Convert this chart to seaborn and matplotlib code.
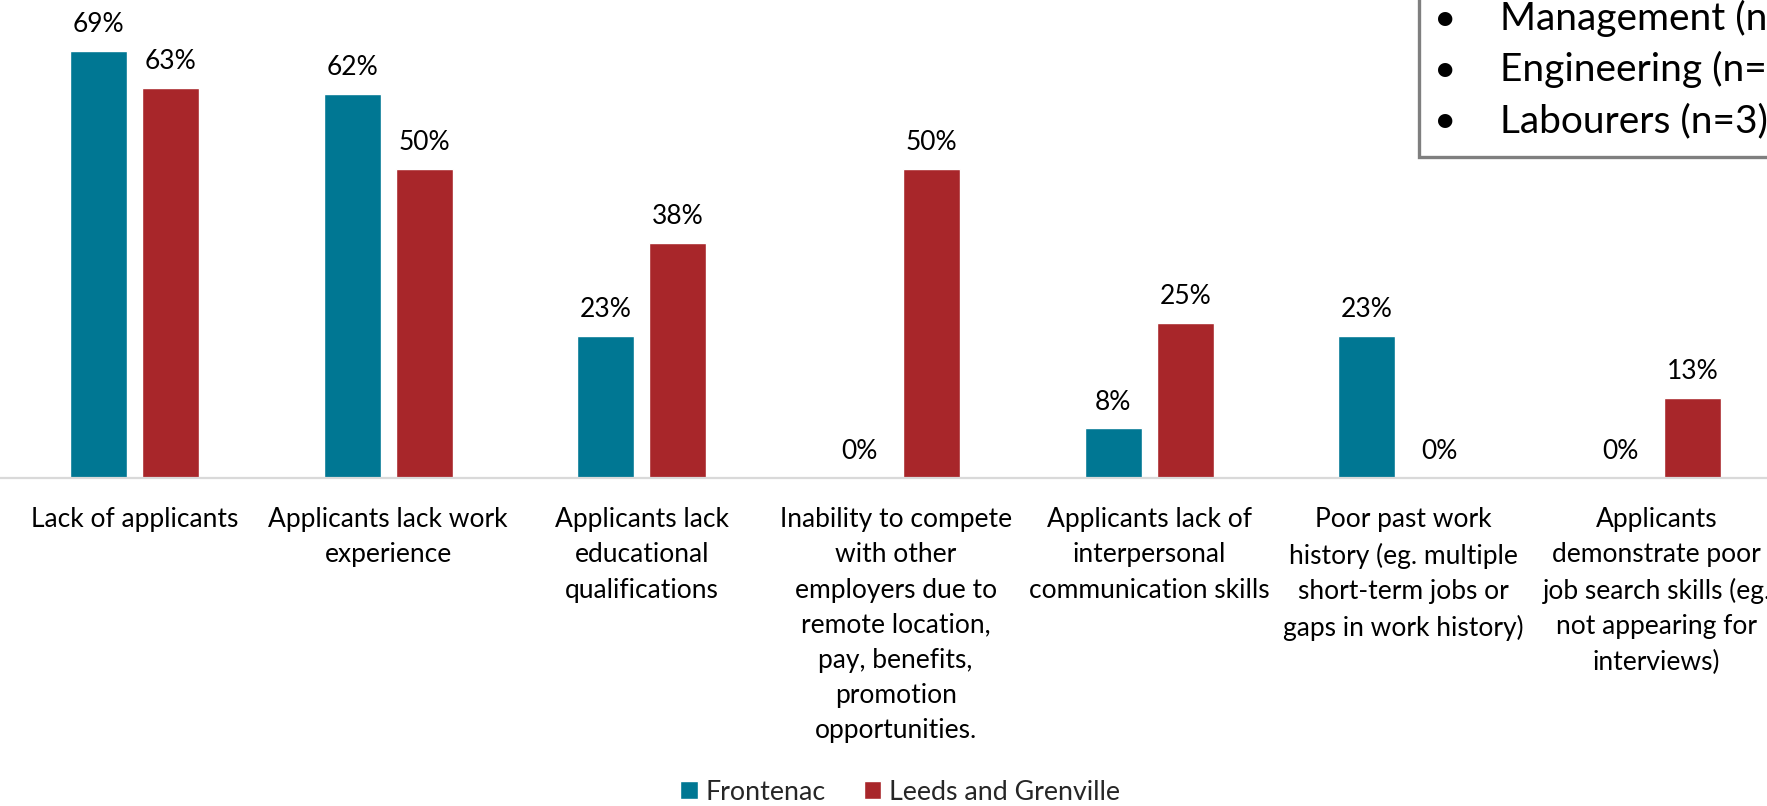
import matplotlib
matplotlib.use("Agg")
import matplotlib.pyplot as plt
from matplotlib.patches import Rectangle
import pandas as pd
import seaborn as sns

# Reasons for hiring difficulty, by region (% of employers)
categories = [
    "Lack of applicants",
    "Applicants lack work\nexperience",
    "Applicants lack\neducational\nqualifications",
    "Inability to compete\nwith other\nemployers due to\nremote location,\npay, benefits,\npromotion\nopportunities.",
    "Applicants lack of\ninterpersonal\ncommunication skills",
    "Poor past work\nhistory (eg. multiple\nshort-term jobs or\ngaps in work history)",
    "Applicants\ndemonstrate poor\njob search skills (eg.\nnot appearing for\ninterviews)",
]
regions = ["Frontenac", "Leeds and Grenville"]
frontenac = [69, 62, 23, 0, 8, 23, 0]
leeds_grenville = [63, 50, 38, 50, 25, 0, 13]
colors = ["#007793", "#A8262A"]
occupations = ["Management (n=4)", "Engineering (n=3)", "Labourers (n=3)"]

df = pd.DataFrame({
    "category": categories * 2,
    "region": [regions[0]] * len(categories) + [regions[1]] * len(categories),
    "value": frontenac + leeds_grenville,
})

sns.set_theme(style="white")
plt.rcParams["font.family"] = ["Lato", "DejaVu Sans"]

W, H = 1767, 806
fig = plt.figure(figsize=(W / 100, H / 100), dpi=100)
base_y = 478
ax = fig.add_axes([0, (H - base_y) / H, 1, base_y / H])

sns.barplot(
    data=df, x="category", y="value", hue="region",
    order=categories, hue_order=regions, palette=colors,
    width=0.568, gap=0.209, saturation=1, ax=ax, legend=True,
)

unit = 253.7
ax.set_xlim(-134.5 / unit, (W - 134.5) / unit)
ax.set_ylim(0, base_y / 6.19)

for cont in ax.containers:
    ax.bar_label(cont, labels=[f"{v:.0f}%" for v in cont.datavalues],
                 padding=10, fontsize=19, color="#000000")

ax.set_xlabel("")
ax.set_ylabel("")
ax.set_yticks([])
ax.tick_params(axis="x", length=0, pad=21, labelsize=19, labelcolor="#000000")
for lbl in ax.get_xticklabels():
    lbl.set_linespacing(1.51)
for side in ["top", "left", "right"]:
    ax.spines[side].set_visible(False)
ax.spines["bottom"].set_color("#D9D9D9")
ax.spines["bottom"].set_linewidth(1.6)
ax.patch.set_alpha(0)

handles, labels = ax.get_legend_handles_labels()
ax.get_legend().remove()
fig.legend(handles, labels, loc="center", bbox_to_anchor=(0.5095, 0.017),
           ncol=2, frameon=False, fontsize=19.3, handlelength=0.65,
           handleheight=0.65, handletextpad=0.3, columnspacing=1.4,
           borderaxespad=0)

# Occupation note box in the top-right corner
fig.patches.append(Rectangle((1419 / W, 1 - 157 / H), 0.5, 0.5,
                             transform=fig.transFigure, fill=True,
                             facecolor="white", edgecolor="#7F7F7F",
                             linewidth=2.4, zorder=5))
for i, occ in enumerate(occupations):
    yb = 1 - (30 + 51 * i) / H
    fig.text(1445 / W, yb, "\u2022", fontsize=28, ha="center",
             va="baseline", color="#000000", zorder=6)
    fig.text(1500 / W, yb, occ, fontsize=28, ha="left",
             va="baseline", color="#000000", zorder=6)

fig.savefig("out.png", dpi=100)
